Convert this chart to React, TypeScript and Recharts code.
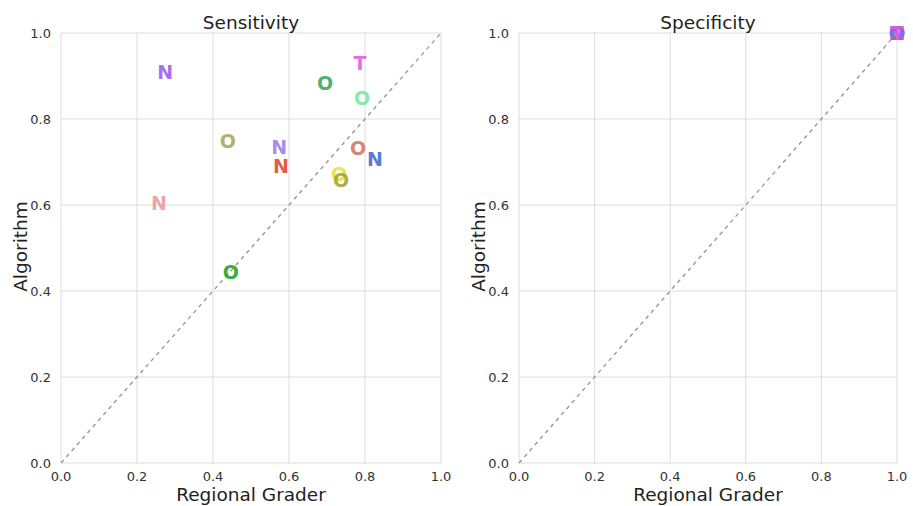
import React from 'react';
import {
  ScatterChart,
  Scatter,
  XAxis,
  YAxis,
  CartesianGrid,
  ReferenceLine,
} from 'recharts';

// sensitivity: regional grader (x) vs algorithm (y)
const sensGrader = [0.274, 0.787, 0.695, 0.792, 0.439, 0.574, 0.579, 0.782, 0.826, 0.732, 0.737, 0.258, 0.447];
const sensAlgo = [0.909, 0.93, 0.884, 0.849, 0.749, 0.735, 0.691, 0.733, 0.707, 0.672, 0.658, 0.605, 0.444];
const letters = ['N', 'T', 'O', 'O', 'O', 'N', 'N', 'O', 'N', 'O', 'O', 'N', 'O'];
const palette = ['#9b5cf0', '#e05ce0', '#3aa35e', '#7ae59c', '#a8a85a', '#9a80ea', '#e0462a', '#d0785a', '#4566d2', '#e4e438', '#a3a336', '#eb9a9a', '#1fa01f'];

// specificity: every grader sits at 1.0 / 1.0
const specGrader = [1, 1, 1, 1, 1, 1, 1, 1, 1, 1, 1, 1, 1];
const specAlgo = [1, 1, 1, 1, 1, 1, 1, 1, 1, 1, 1, 1, 1];
// drawing order on the right panel (O's underneath, purple N's and T on top)
const specOrder = [2, 3, 4, 7, 9, 10, 12, 11, 6, 8, 5, 0, 1];

const ticks = [0, 0.2, 0.4, 0.6, 0.8, 1.0];

const sensData = sensGrader.map((x, i) => ({ x, y: sensAlgo[i], letter: letters[i], color: palette[i] }));
const specData = specOrder.map((i) => ({ x: specGrader[i], y: specAlgo[i], letter: letters[i], color: palette[i] }));

const font = 'DejaVu Sans, sans-serif';
const tickStyle = { fontSize: 13, fill: '#333', fontFamily: font };

const Letter = (props: any) => {
  const { cx, cy, payload } = props;
  return (
    <text
      x={cx}
      y={cy}
      textAnchor="middle"
      dominantBaseline="central"
      fontFamily={font}
      fontWeight="bold"
      fontSize={19}
      fill={payload.color}
      fillOpacity={0.9}
    >
      {payload.letter}
    </text>
  );
};

function Panel({ data, left, marginLeft, title, titleX }: any) {
  return (
    <>
      <ScatterChart
        width={456}
        height={506}
        margin={{ top: 33, right: 15, bottom: 13, left: marginLeft }}
        style={{ position: 'absolute', left, top: 0 }}
      >
        <CartesianGrid stroke="#dcdcdc" strokeWidth={1} />
        <XAxis
          type="number"
          dataKey="x"
          domain={[0, 1]}
          ticks={ticks}
          tickFormatter={(v: number) => v.toFixed(1)}
          axisLine={false}
          tickLine={false}
          tick={tickStyle}
          tickMargin={3}
          height={30}
          interval={0}
        />
        <YAxis
          type="number"
          dataKey="y"
          domain={[0, 1]}
          ticks={ticks}
          tickFormatter={(v: number) => v.toFixed(1)}
          axisLine={false}
          tickLine={false}
          tick={tickStyle}
          tickMargin={4}
          width={40}
          interval={0}
        />
        <ReferenceLine
          segment={[{ x: 0, y: 0 }, { x: 1, y: 1 }]}
          stroke="#999"
          strokeWidth={1.4}
          strokeDasharray="4 4"
        />
        <Scatter data={data} shape={Letter} isAnimationActive={false} />
      </ScatterChart>
      <div style={{ position: 'absolute', left: titleX - 100, width: 200, top: 12, textAlign: 'center', fontFamily: font, fontSize: 18.5, color: '#222' }}>
        {title}
      </div>
      <div style={{ position: 'absolute', left: titleX - 100, width: 200, top: 484, textAlign: 'center', fontFamily: font, fontSize: 18.5, color: '#222' }}>
        Regional Grader
      </div>
      <div
        style={{
          position: 'absolute',
          left: left + marginLeft - 101,
          width: 200,
          top: 236,
          textAlign: 'center',
          fontFamily: font,
          fontSize: 18.5,
          color: '#222',
          transform: 'rotate(-90deg)',
        }}
      >
        Algorithm
      </div>
    </>
  );
}

export default function App() {
  return (
    <div style={{ position: 'absolute', left: 0, top: 0, width: 913, height: 506, background: '#fff' }}>
      <Panel data={sensData} left={0} marginLeft={21} title="Sensitivity" titleX={251} />
      <Panel data={specData} left={456} marginLeft={23} title="Specificity" titleX={708} />
    </div>
  );
}
